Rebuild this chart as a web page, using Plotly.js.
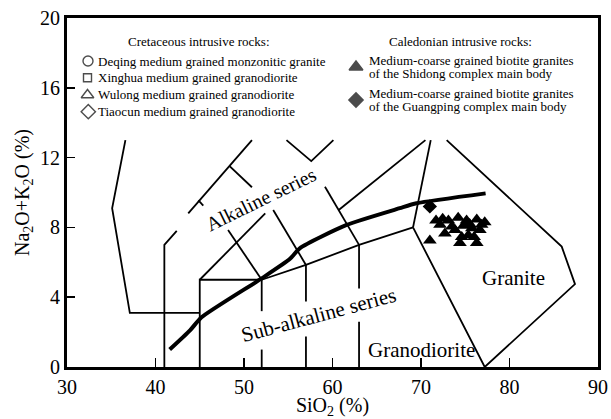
<!DOCTYPE html>
<html>
<head>
<meta charset="utf-8">
<script src="https://cdn.plot.ly/plotly-3.0.1.min.js"></script>
<style>
  html, body { margin: 0; padding: 0; background: #fff; }
  #chart { width: 611px; height: 419px; }
</style>
</head>
<body>
<div id="chart"></div>
<script>
// ---- Sample data: SiO2 (%) vs Na2O+K2O (%) ----
// Cretaceous intrusive rocks
const deqingSi = [70.9];
const deqingAlk = [6.6];
const xinghuaSi = [66.8, 67.9, 68.4, 69.7];
const xinghuaAlk = [7.2, 7.1, 6.7, 7.2];
const wulongSi = [68.4];
const wulongAlk = [6.1];
const tiaocunSi = [70.3];
const tiaocunAlk = [7.3];
// Caledonian intrusive rocks
const shidongSi = [71.0, 71.7, 72.15, 72.45, 72.7, 73.1, 73.5, 73.85, 74.2, 74.4, 74.6, 74.8,
                   75.15, 75.35, 75.5, 75.75, 76.0, 76.3, 76.3, 76.65, 76.85, 77.2];
const shidongAlk = [7.25, 8.4, 8.15, 8.5, 7.65, 8.4, 8.05, 7.85, 8.55, 7.1, 7.45, 8.1,
                    8.4, 7.55, 8.2, 7.95, 7.45, 8.45, 7.1, 7.85, 8.15, 8.3];
const guangpingSi = [71.0];
const guangpingAlk = [9.2];

// ---- Classification template (field boundaries), segments separated by null ----
const fieldSi = [
  36.6, 35.1, 37.1, 45, null,
  41, 41, 42.4, null,
  43.7, 50.9, null,
  48.4, 50.9, null,
  44.85, 45.4, null,
  45, 45, 52, null,
  45, 52.4, null,
  48.2, 52, null,
  52, 52, null, 52, 52, null,
  53.3, 57, null,
  52, 57, 63, 69.1, null,
  57, 57, null, 57, 57, null,
  63, 63, null, 63, 63, null,
  54.8, 57.6, 60.1, null,
  59.15, 63, null,
  60.7, 70.5, null,
  69.1, 71.1, null,
  69.1, 77.2, 87.4, 85.9, 72.9
];
const fieldAlk = [
  13, 9.1, 3.1, 3.1, null,
  0, 7, 7.8, null,
  8.8, 13, null,
  11.5, 10.3, null,
  9.55, 9.25, null,
  0, 5, 5, null,
  5, 8.8, null,
  7.85, 5, null,
  0, 1.0, null, 3.2, 5, null,
  9.0, 5.85, null,
  5, 5.85, 7.0, 8.0, null,
  0, 1.75, null, 3.75, 5.85, null,
  0, 2.6, null, 4.5, 7.0, null,
  13, 11.8, 13, null,
  10.33, 7.0, null,
  9.0, 13, null,
  8.0, 13, null,
  8.0, 0, 4.75, 6.9, 13
];
// Alkaline / sub-alkaline dividing curve
const dividerSi = [41.6, 43.9, 45.2, 52.0, 55.2, 56.3, 61.6, 67.6, 69.5, 77.3];
const dividerAlk = [1.0, 2.1, 2.85, 5.08, 6.2, 6.8, 8.14, 9.1, 9.38, 9.95];

// Axis ticks
const siTicks = [30, 40, 50, 60, 70, 80, 90];
const alkTicks = [0, 4, 8, 12, 16, 20];

// Legend texts
const cretTitle = 'Cretaceous intrusive rocks:';
const cretNames = [
  'Deqing medium grained monzonitic granite',
  'Xinghua medium grained granodiorite',
  'Wulong medium grained granodiorite',
  'Tiaocun medium grained granodiorite'
];
const caleTitle = 'Caledonian intrusive rocks:';
const caleNames = [
  ['Medium-coarse grained biotite granites', 'of the Shidong complex main body'],
  ['Medium-coarse grained biotite granites', 'of the Guangping complex main body']
];

const FONT = 'Liberation Serif, Times New Roman, serif';
const openLine = {color: '#000', width: 1.4};

function pts(x, y, symbol, size, filled) {
  return {
    type: 'scatter', mode: 'markers', x: x, y: y, showlegend: false, hoverinfo: 'skip',
    marker: {symbol: symbol, size: size, color: filled ? '#000' : 'rgba(0,0,0,0)',
             line: filled ? {width: 0} : openLine}
  };
}

const traces = [
  {type: 'scatter', mode: 'lines', x: fieldSi, y: fieldAlk, connectgaps: false,
   line: {color: '#000', width: 1.8}, showlegend: false, hoverinfo: 'skip'},
  {type: 'scatter', mode: 'lines', x: dividerSi, y: dividerAlk,
   line: {color: '#000', width: 4, shape: 'spline', smoothing: 0.6}, showlegend: false, hoverinfo: 'skip'},
  pts(xinghuaSi, xinghuaAlk, 'square-open', 8, false),
  pts(wulongSi, wulongAlk, 'triangle-up-open', 11, false),
  pts(tiaocunSi, tiaocunAlk, 'diamond-open', 11, false),
  pts(deqingSi, deqingAlk, 'circle-open', 10, false),
  pts(shidongSi, shidongAlk, 'triangle-up', 12, true),
  pts(guangpingSi, guangpingAlk, 'diamond', 11, true)
];

// Legend keys, placed on a pixel-scaled overlay axis pair
const keyX = [88, 87.5, 87.5, 88.3, 356, 356];
const keyY = [61, 77.7, 95, 111.7, 67, 100];
const keySym = ['circle-open', 'square-open', 'triangle-up-open', 'diamond-open', 'triangle-up', 'diamond'];
const keySize = [10, 8, 11, 11, 12, 11];
traces.push({
  type: 'scatter', mode: 'markers', x: keyX, y: keyY, xaxis: 'x2', yaxis: 'y2',
  showlegend: false, hoverinfo: 'skip',
  marker: {symbol: keySym, size: keySize, color: '#000', line: {color: '#000', width: 1.4}}
});

const annotations = [];
function txt(x, y, text, size, opts) {
  annotations.push(Object.assign({
    x: x, y: y, text: text, showarrow: false, font: {family: FONT, size: size, color: '#000'},
    xanchor: 'center', yanchor: 'middle', borderpad: 0
  }, opts || {}));
}
// Field names
txt(51.95, 9.65, 'Alkaline series', 20, {textangle: -26});
txt(58.4, 3.0, 'Sub-alkaline series', 21, {textangle: -15});
txt(80.4, 5.1, 'Granite', 21);
txt(70.0, 1.0, 'Granodiorite', 21);
// Legend texts
const legOpts = {xref: 'x2', yref: 'y2'};
txt(198.5, 41, cretTitle, 13, legOpts);
const cretRows = [61, 77.7, 94.3, 111.5];
cretNames.forEach((n, i) => txt(96.5, cretRows[i], n, 13, Object.assign({xanchor: 'left'}, legOpts)));
txt(460, 41, caleTitle, 13, legOpts);
const caleRows = [[60, 73], [93.5, 106.5]];
caleNames.forEach((pair, i) => pair.forEach((line, j) =>
  txt(367.5, caleRows[i][j], line, 13, Object.assign({xanchor: 'left'}, legOpts))));

const layout = {
  width: 611, height: 419,
  margin: {l: 67, r: 13, t: 18, b: 52},
  paper_bgcolor: '#fff', plot_bgcolor: '#fff',
  font: {family: FONT, color: '#000'},
  showlegend: false,
  xaxis: {
    range: [30, 90], tickmode: 'array', tickvals: siTicks, ticks: 'inside', ticklen: 9, tickwidth: 1.5,
    tickcolor: '#000', showline: true, linewidth: 3, linecolor: '#000', mirror: true,
    showgrid: false, zeroline: false, tickfont: {family: FONT, size: 20, color: '#000'},
    title: {text: 'SiO<sub>2</sub> (%)', font: {family: FONT, size: 20, color: '#000'}, standoff: 4}
  },
  yaxis: {
    range: [0, 20], tickmode: 'array', tickvals: alkTicks, ticks: 'inside', ticklen: 8, tickwidth: 1.5,
    tickcolor: '#000', showline: true, linewidth: 3, linecolor: '#000', mirror: true,
    showgrid: false, zeroline: false, tickfont: {family: FONT, size: 20, color: '#000'},
    title: {text: 'Na<sub>2</sub>O+K<sub>2</sub>O (%)', font: {family: FONT, size: 20, color: '#000'}, standoff: 6}
  },
  xaxis2: {range: [67, 598], overlaying: 'x', visible: false, fixedrange: true},
  yaxis2: {range: [367, 18], overlaying: 'y', visible: false, fixedrange: true},
  annotations: annotations
};

Plotly.newPlot('chart', traces, layout, {staticPlot: true, displayModeBar: false});
</script>
</body>
</html>
